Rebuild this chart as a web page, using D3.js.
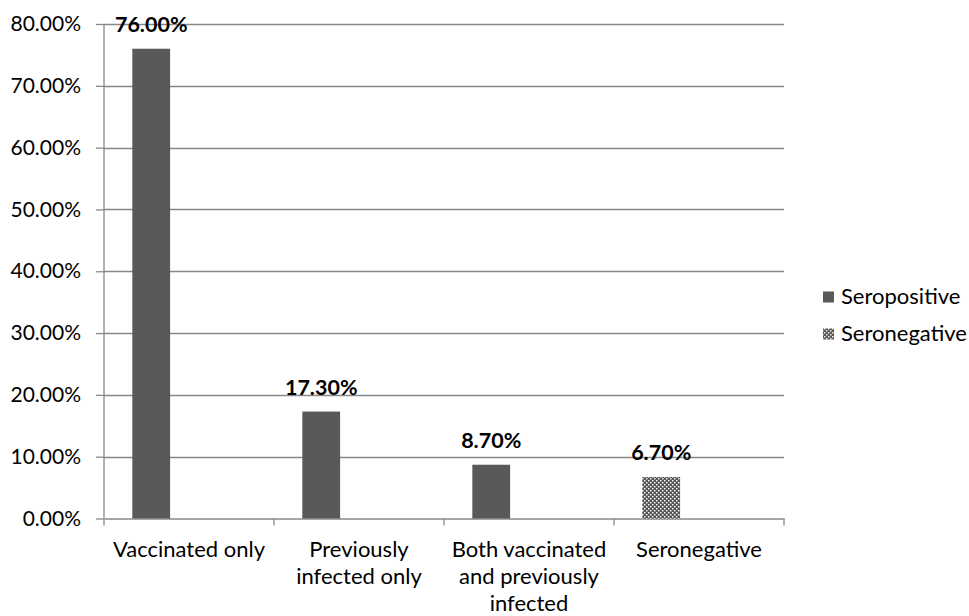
<!DOCTYPE html>
<html><head><meta charset="utf-8">
<script src="https://cdn.jsdelivr.net/npm/d3@7"></script>
<style>
html,body{margin:0;padding:0;background:#fff;}
text{font-family:Lato, "Open Sans", sans-serif;fill:#000;}
</style></head>
<body><svg id="c" width="969" height="616"></svg>
<script>
const categories = ["Vaccinated only", "Previously infected only", "Both vaccinated and previously infected", "Seronegative"];
const categoryLines = [["Vaccinated only"], ["Previously", "infected only"], ["Both vaccinated", "and previously", "infected"], ["Seronegative"]];
const seriesNames = ["Seropositive", "Seronegative"];
const seropositive = [76.0, 17.3, 8.7, null];
const seronegative = [null, null, null, 6.7];
const yTicks = [0, 10, 20, 30, 40, 50, 60, 70, 80];

(function(){
const svg = d3.select("#c");
const defs = svg.append("defs");
const pat = defs.append("pattern").attr("id","chk").attr("patternUnits","userSpaceOnUse")
  .attr("width",4).attr("height",4);
pat.append("rect").attr("width",4).attr("height",4).attr("fill","#555555");
pat.append("rect").attr("x",0).attr("y",0).attr("width",1.5).attr("height",1.5).attr("fill","#f2f2f2");
pat.append("rect").attr("x",2).attr("y",2).attr("width",1.5).attr("height",1.5).attr("fill","#f2f2f2");

const pLeft = 104, pRight = 784, pTop = 24, pBottom = 518.5;
const x = d3.scaleBand().domain(categories).range([pLeft, pRight]);
const slot = d3.scaleBand().domain([0,1,2]).range([0, x.bandwidth()]).paddingInner(0).paddingOuter(0.75);
const y = d3.scaleLinear().domain([0, 80]).range([pBottom, pTop]);
const fmt = d => d3.format(".2f")(d) + "%";
const grid = "#898989";

svg.append("g").selectAll("line").data(yTicks.filter(t=>t>0)).join("line")
  .attr("x1", pLeft).attr("x2", pRight)
  .attr("y1", d=>Math.round(y(d))+0.5).attr("y2", d=>Math.round(y(d))+0.5)
  .attr("stroke", grid).attr("stroke-width",1.3);

const yAxis = d3.axisLeft(y).tickValues(yTicks).tickFormat(fmt).tickSize(8).tickPadding(15);
const gy = svg.append("g").attr("transform", `translate(${pLeft},0)`).call(yAxis);
gy.select(".domain").remove();
gy.selectAll("line").attr("stroke", grid).attr("stroke-width",1.3);
gy.selectAll("text").attr("font-size", 21).attr("font-family","Lato").attr("fill","#000");
svg.append("line").attr("x1",pLeft).attr("x2",pLeft).attr("y1",y(80)).attr("y2",pBottom)
  .attr("stroke", grid).attr("stroke-width",1.3);

const xAxis = d3.axisBottom(x).tickSizeOuter(0).tickSize(0).tickFormat("");
const gx = svg.append("g").attr("transform", `translate(0,${pBottom})`).call(xAxis);
gx.selectAll("path").attr("stroke", grid).attr("stroke-width",1.3);
const bounds = categories.map(c => x(c)).concat([pRight]);
svg.append("g").selectAll("line").data(bounds).join("line")
  .attr("x1", d=>d).attr("x2", d=>d).attr("y1", pBottom).attr("y2", pBottom+7)
  .attr("stroke", grid).attr("stroke-width",1.3);

categories.forEach((c, i) => {
  const t = svg.append("text").attr("text-anchor","middle").attr("font-size",22)
    .attr("x", x(c) + x.bandwidth()/2).attr("y", 557);
  categoryLines[i].forEach((ln, j) => {
    t.append("tspan").attr("x", x(c) + x.bandwidth()/2).attr("dy", j===0?0:27).text(ln);
  });
});

const bars = [];
categories.forEach((c,i) => {
  if (seropositive[i] != null) bars.push({c, v:seropositive[i], s:0});
  if (seronegative[i] != null) bars.push({c, v:seronegative[i], s:1});
});
svg.append("g").selectAll("rect").data(bars).join("rect")
  .attr("x", d => x(d.c) + slot(0))
  .attr("width", slot.bandwidth())
  .attr("y", d => y(d.v))
  .attr("height", d => pBottom - y(d.v))
  .attr("fill", d => d.s===0 ? "#595959" : "url(#chk)");

svg.append("g").selectAll("text").data(bars).join("text")
  .attr("text-anchor","middle").attr("font-weight","bold").attr("font-size",21.5)
  .attr("x", d => x(d.c) + slot(0) + slot.bandwidth()/2)
  .attr("y", d => y(d.v) - 17)
  .text(d => fmt(d.v));

const leg = svg.append("g");
seriesNames.forEach((s, i) => {
  const cy = 297 + i*37;
  leg.append("rect").attr("x", 823).attr("y", cy-5.5).attr("width", 11).attr("height", 11)
    .attr("fill", i===0 ? "#595959" : "url(#chk)");
  leg.append("text").attr("x", 841).attr("y", cy+7).attr("font-size", 22).text(s);
});
})();
</script></body></html>
